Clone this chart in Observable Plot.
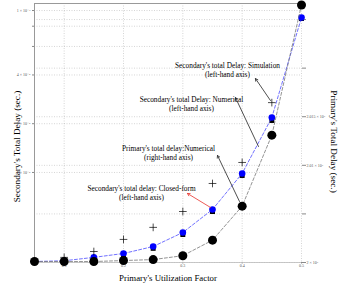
<!DOCTYPE html>
<html><head><meta charset="utf-8">
<script src="https://cdn.jsdelivr.net/npm/d3@7"></script>
<script src="https://cdn.jsdelivr.net/npm/@observablehq/plot@0.6"></script>
<style>html,body{margin:0;padding:0;background:#fff} svg{display:block}</style>
</head><body><div id="chart"></div>
<script>
// ---- data ----
const utilization = [0.05, 0.10, 0.15, 0.20, 0.25, 0.30, 0.35, 0.40, 0.45, 0.50];
const secSimulation = [2.82e-6, 2.85e-6, 2.99e-6, 3.16e-6, 3.49e-6, 4.26e-6, 5.91e-6, 9.86e-6, 2.185e-5, 9.05e-5];
const secNumerical  = [2.82e-6, 2.84e-6, 2.90e-6, 3.07e-6, 3.40e-6, 4.14e-6, 5.74e-6, 9.58e-6, 2.094e-5, 8.93e-5];
const secClosedForm = [2.82e-6, 2.99e-6, 3.25e-6, 3.86e-6, 4.58e-6, 5.74e-6, 8.55e-6, 1.153e-5, 2.70e-5, null];
const primNumerical = [20001, 20001, 20001, 20002, 20003, 20007, 20023, 20058, 20131, 20265];

const xTicks = [0.1, 0.2, 0.3, 0.4, 0.5];
const xTickLabels = ["0.1", "0.2", "0.3", "0.4", "0.5"];
const leftTicks = [1e-5, 2e-5, 4e-5, 6e-5, 8e-5, 1e-4];
const leftTickLabels = ["1 × 10⁻⁵", "2 × 10⁻⁵", "4 × 10⁻⁵", "6 × 10⁻⁵", "8 × 10⁻⁵", "1 × 10⁻⁴"];
const rightTicks = [20000, 20050, 20100, 20150, 20200, 20250];
const rightTickLabels = ["2 × 10⁴", "2.005 × 10⁴", "2.01 × 10⁴", "2.015 × 10⁴", "2.02 × 10⁴", "2.025 × 10⁴"];

const leftDomain = [2.78e-6, 1.105e-4];
const rightDomain = [20000, 20266.5];

// map right-hand (linear) values onto the left-hand (log) scale
const L0 = Math.log(leftDomain[0]), L1 = Math.log(leftDomain[1]);
const toLeft = r => Math.exp(L0 + (r - rightDomain[0]) / (rightDomain[1] - rightDomain[0]) * (L1 - L0));

const rows = utilization.map((u, i) => ({
  u, sim: secSimulation[i], num: secNumerical[i], cf: secClosedForm[i], prim: toLeft(primNumerical[i])
}));

const rightT = rightTicks.map(toLeft);
const leftFmt = new Map(leftTicks.map((t, i) => [t, leftTickLabels[i]]));
const rightFmt = new Map(rightT.map((t, i) => [t, rightTickLabels[i]]));
const xFmt = new Map(xTicks.map((t, i) => [t, xTickLabels[i]]));

// annotations
const notes = [
  {text: "Secondary's total Delay: Simulation\n(left-hand axis)", dx: 193, dy: 66},
  {text: "Secondary's total Delay: Numerical\n(left-hand axis)", dx: 157, dy: 100},
  {text: "Primary's total delay:Numerical\n(right-hand axis)", dx: 134, dy: 149},
  {text: "Secondary's total delay: Closed-form\n(left-hand axis)", dx: 107, dy: 189}
];
const arrowsBlack = [
  {x1: 0.4477, y1: 2.78e-5, x2: 0.4224, y2: 3.80e-5},
  {x1: 0.4275, y1: 1.447e-5, x2: 0.3887, y2: 2.90e-5},
  {x1: 0.3955, y1: 0.662e-5, x2: 0.3584, y2: 1.273e-5}
];
const arrowsRed = [
  {x1: 0.3466, y1: 0.608e-5, x2: 0.3078, y2: 0.742e-5}
];

const grid = {stroke: "#999", strokeOpacity: 0.7, strokeDasharray: "1,1.5", strokeWidth: 0.6};
const serif = "'Liberation Serif', 'DejaVu Serif', serif";

const chart = Plot.plot({
  width: 341, height: 284,
  marginLeft: 34, marginRight: 40, marginTop: 3, marginBottom: 22,
  style: {fontFamily: serif, background: "white", color: "black"},
  x: {domain: [0.05, 0.5]},
  y: {type: "log", domain: leftDomain},
  marks: [
    Plot.gridX(xTicks, grid),
    Plot.gridY(leftTicks, grid),
    Plot.gridY(rightT, grid),
    Plot.axisX(xTicks, {tickSize: 1.5, tickPadding: 0.5, fontSize: 4, stroke: "#888", fill: "#555", label: null, tickFormat: d => xFmt.get(d)}),
    Plot.axisY(leftTicks, {anchor: "left", tickSize: 2, tickPadding: 2, fontSize: 4, stroke: "#888", fill: "#555", label: null, tickFormat: d => leftFmt.get(d)}),
    Plot.axisY(rightT, {anchor: "right", tickSize: 4, tickPadding: 1, fontSize: 4, stroke: "#888", fill: "#555", label: null, tickFormat: d => rightFmt.get(d)}),
    Plot.ruleX([0.05], {stroke: "#999", strokeWidth: 1}),
    Plot.ruleY([leftDomain[1]], {stroke: "#999", strokeWidth: 1}),
    Plot.ruleY([leftDomain[0]], {stroke: "#bbb", strokeWidth: 0.8}),
    // series
    Plot.dot(rows, {x: "u", y: "num", symbol: "square", r: 2.8, fill: "black"}),
    Plot.line(rows, {x: "u", y: "sim", stroke: "#4d4dff", strokeWidth: 0.8, strokeDasharray: "3,2"}),
    Plot.dot(rows, {x: "u", y: "sim", r: 3.3, fill: "#0000ff"}),
    Plot.dot(rows.filter(d => d.cf != null), {x: "u", y: "cf", symbol: "plus", r: 2.6, stroke: "black", strokeWidth: 0.7}),
    Plot.line(rows, {x: "u", y: "prim", stroke: "#777", strokeWidth: 0.8, strokeDasharray: "3,2"}),
    Plot.dot(rows, {x: "u", y: "prim", r: 4.5, fill: "black"}),
    // arrows
    Plot.arrow(arrowsBlack, {x1: "x1", y1: "y1", x2: "x2", y2: "y2", stroke: "#222", strokeWidth: 0.8, headLength: 5}),
    Plot.arrow(arrowsRed, {x1: "x1", y1: "y1", x2: "x2", y2: "y2", stroke: "#e8322c", strokeWidth: 0.8, headLength: 5}),
    // annotations
    ...notes.map(n => Plot.text([n.text], {frameAnchor: "top-left", dx: n.dx, dy: n.dy, text: d => d, textAnchor: "middle", lineAnchor: "middle", fontSize: 7.3, lineHeight: 1.25, fill: "black"})),
    // axis titles
    Plot.text(["Secondary's Total Delay (sec.)"], {frameAnchor: "left", text: d => d, rotate: -90, dx: -17, dy: 13.5, fontSize: 9.2, textAnchor: "middle", lineAnchor: "middle", fill: "black"}),
    Plot.text(["Primary's Total Delay (sec.)"], {frameAnchor: "right", text: d => d, rotate: 90, dx: 32, dy: 8.5, fontSize: 9.2, textAnchor: "middle", lineAnchor: "middle", fill: "black"}),
    Plot.text(["Primary's Utilization Factor"], {frameAnchor: "bottom", text: d => d, dy: 16, fontSize: 8.8, textAnchor: "middle", lineAnchor: "middle", fill: "black"})
  ]
});
document.getElementById("chart").appendChild(chart);
</script>
</body></html>
